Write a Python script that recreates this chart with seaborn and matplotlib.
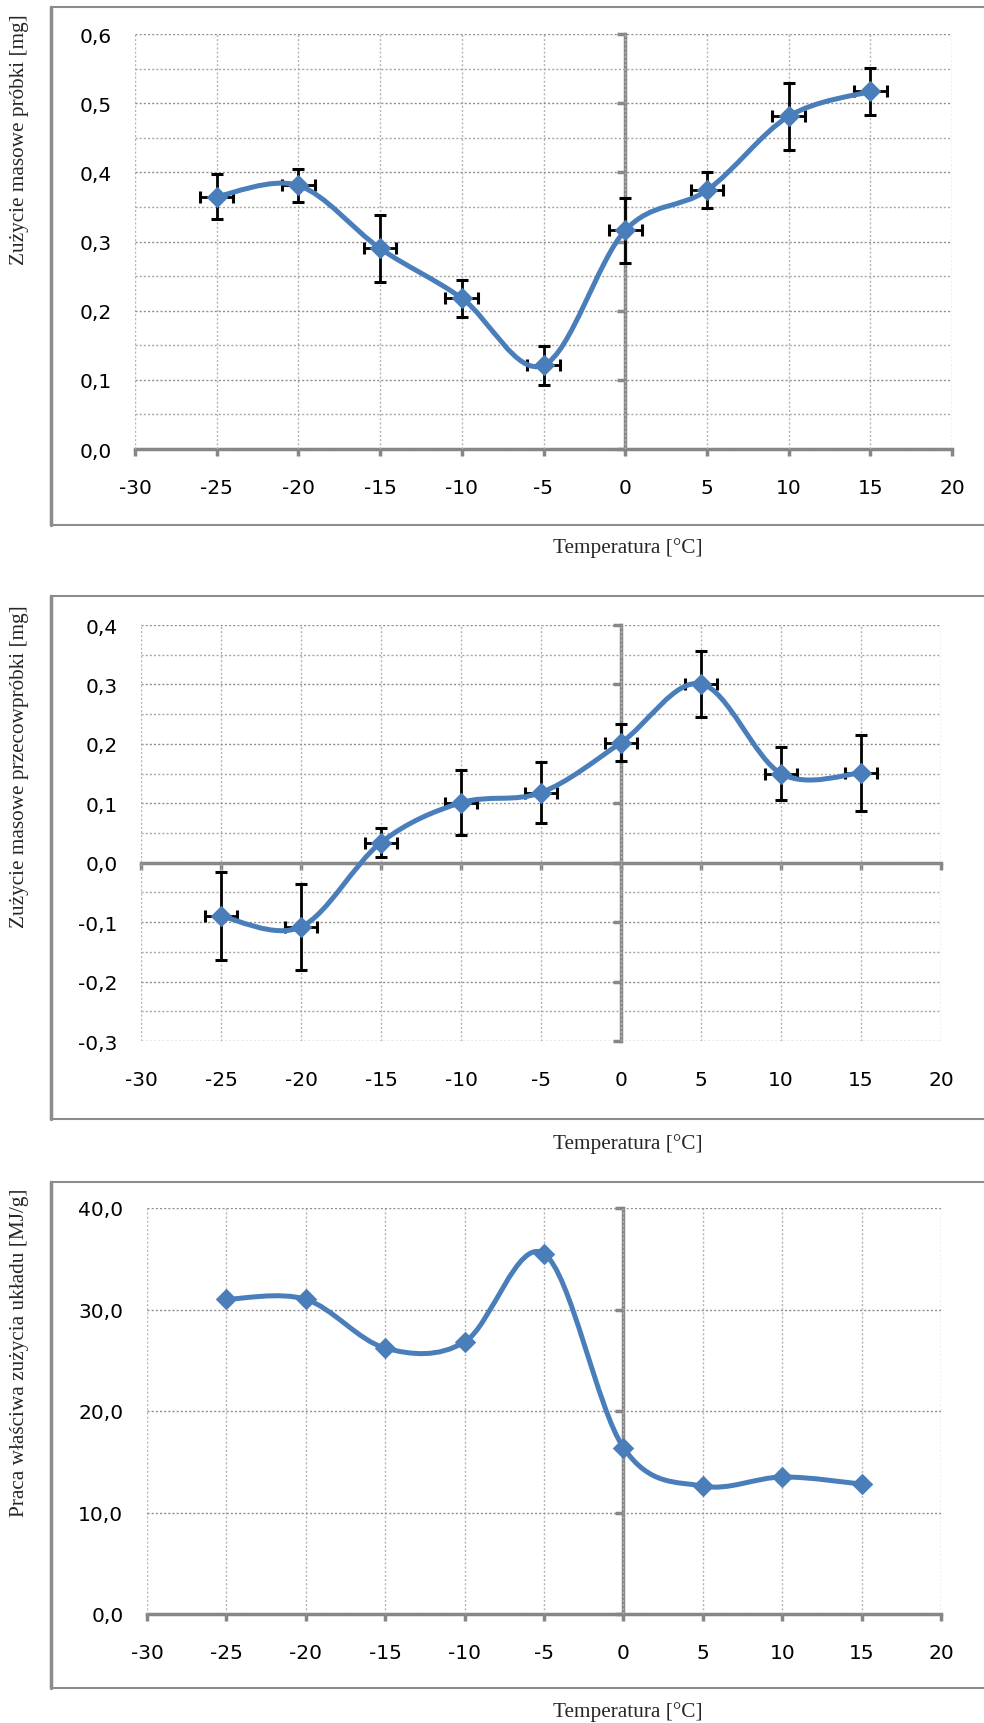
import numpy as np
import matplotlib
matplotlib.use("Agg")
import matplotlib.pyplot as plt
import seaborn as sns
from matplotlib.path import Path
from matplotlib.patches import PathPatch, Rectangle
from matplotlib.lines import Line2D
from matplotlib.ticker import FuncFormatter

sns.set_theme(style="white")

# dane
temp = [-25, -20, -15, -10, -5, 0, 5, 10, 15]
temp_err = [1.0] * 9

wear_sample = [0.365, 0.381, 0.290, 0.218, 0.121, 0.316, 0.374, 0.481, 0.517]
wear_sample_err = [0.033, 0.024, 0.049, 0.027, 0.028, 0.047, 0.026, 0.048, 0.034]

wear_counter = [-0.090, -0.108, 0.034, 0.101, 0.118, 0.202, 0.301, 0.150, 0.151]
wear_counter_err = [0.074, 0.073, 0.025, 0.055, 0.052, 0.031, 0.055, 0.044, 0.064]

work = [31.0, 31.0, 26.2, 26.8, 35.5, 16.4, 12.6, 13.5, 12.8]

ylabels = ["Zużycie masowe próbki [mg]",
           "Zużycie masowe przecowpróbki [mg]",
           "Praca właściwa zużycia układu [MJ/g]"]
xlabel = "Temperatura [°C]"

W, H = 984, 1724
BLUE = "#4A7EBB"
AXC = "#868686"

fig = plt.figure(figsize=(W / 100, H / 100), dpi=100)


def rect(l, t, r, b):
    return [l / W, 1 - b / H, (r - l) / W, (b - t) / H]


def smooth_path(x, y):
    # krzywa wygładzona jak w Excelu (Bezier)
    pts = np.column_stack([x, y]).astype(float)
    n = len(pts)
    verts = [pts[0]]
    codes = [Path.MOVETO]
    for i in range(n - 1):
        p0 = pts[i - 1] if i > 0 else pts[i]
        p1, p2 = pts[i], pts[i + 1]
        p3 = pts[i + 2] if i + 2 < n else pts[i + 1]
        verts += [p1 + (p2 - p0) / 6, p2 - (p3 - p1) / 6, p2]
        codes += [Path.CURVE4] * 3
    return Path(verts, codes)


def dec(v, pos):
    return f"{v:.1f}".replace(".", ",").replace("−", "-")


def intfmt(v, pos):
    return f"{int(round(v))}"


def panel(box, frame, ylim, major, minor, y, yerr, ylab, lab_pos, xlab_y):
    l, t, r, b = frame
    fig.add_artist(Rectangle((l / W, 1 - b / H), (r - l) / W, (b - t) / H,
                             transform=fig.transFigure, fill=False,
                             edgecolor="#8C8C8C", lw=1.5))
    fig.add_artist(Line2D([l / W, l / W], [1 - b / H, 1 - t / H],
                          transform=fig.transFigure, color="#8C8C8C", lw=2.5))

    # osie przechodzące przez zero
    ax2 = fig.add_axes(rect(*box))
    ax2.set_xlim(-30, 20)
    ax2.set_ylim(*ylim)
    ax2.set_xticks(np.arange(-30, 21, 5))
    ax2.set_yticks(major)
    for s in ["top", "right"]:
        ax2.spines[s].set_visible(False)
    for s in ["left", "bottom"]:
        ax2.spines[s].set_position(("data", 0))
        ax2.spines[s].set_color(AXC)
        ax2.spines[s].set_linewidth(2.5)
    ax2.tick_params(axis="x", direction="out", length=5, width=2.5, color=AXC,
                    labelbottom=False, bottom=True)
    ax2.tick_params(axis="y", direction="out", length=6, width=2.5, color=AXC,
                    labelleft=False, left=True)
    ax2.patch.set_visible(False)

    ax = fig.add_axes(rect(*box))
    ax.set_zorder(ax2.get_zorder() + 1)
    ax.patch.set_visible(False)
    ax.set_xlim(-30, 20)
    ax.set_ylim(*ylim)
    ax.set_xticks(np.arange(-30, 21, 5))
    ax.set_yticks(major)
    if minor is not None:
        ax.set_yticks(minor, minor=True)
    for s in ax.spines.values():
        s.set_visible(False)
    ax.xaxis.grid(True, which="major", ls=(0, (1.5, 1.5)), color="#B4B4B4", lw=1)
    ax.yaxis.grid(True, which="major", ls=(0, (1.5, 1.5)), color="#8F8F8F", lw=1)
    ax.yaxis.grid(True, which="minor", ls=(0, (1.5, 1.5)), color="#A8A8A8", lw=1)
    ax.tick_params(axis="both", which="both", length=0)
    ax.tick_params(axis="y", pad=17, labelsize=14.5, labelcolor="black")
    ax.tick_params(axis="x", pad=21, labelsize=14.5, labelcolor="black")
    ax.yaxis.set_major_formatter(FuncFormatter(dec))
    ax.xaxis.set_major_formatter(FuncFormatter(intfmt))
    for lbl in ax.get_xticklabels() + ax.get_yticklabels():
        lbl.set_family("DejaVu Sans")

    if yerr is not None:
        ax.errorbar(temp, y, yerr=yerr, xerr=temp_err, fmt="none", ecolor="black",
                    elinewidth=2, capsize=4.5, capthick=2.2, zorder=3)
    ax.add_patch(PathPatch(smooth_path(temp, y), fill=False, edgecolor=BLUE,
                           lw=3.6, capstyle="round", joinstyle="round", zorder=4))
    sns.scatterplot(x=temp, y=y, ax=ax, marker="D", s=120, color=BLUE,
                    edgecolor=BLUE, linewidth=0, zorder=5)

    fig.text(20 / W, 1 - lab_pos / H, ylab, rotation=90, ha="center", va="center",
             family="Liberation Serif", fontsize=15.3)
    fig.text(628 / W, 1 - xlab_y / H, xlabel, ha="center", va="center",
             family="Liberation Serif", fontsize=15.3)
    return ax


panel((135, 35, 952, 450), (51, 8, 995, 526), (0, 0.6),
      np.arange(0, 0.61, 0.1), np.arange(0.05, 0.6, 0.1),
      wear_sample, wear_sample_err, ylabels[0], 140, 548)

panel((141, 626, 941, 1042), (51, 597, 995, 1120), (-0.3, 0.4),
      np.arange(-0.3, 0.41, 0.1), np.arange(-0.25, 0.4, 0.1),
      wear_counter, wear_counter_err, ylabels[1], 767, 1144)

panel((147, 1209, 941, 1615), (51, 1183, 995, 1689), (0, 40),
      np.arange(0, 41, 10), None,
      work, None, ylabels[2], 1353, 1712)

plt.savefig("out.png", dpi=100)
